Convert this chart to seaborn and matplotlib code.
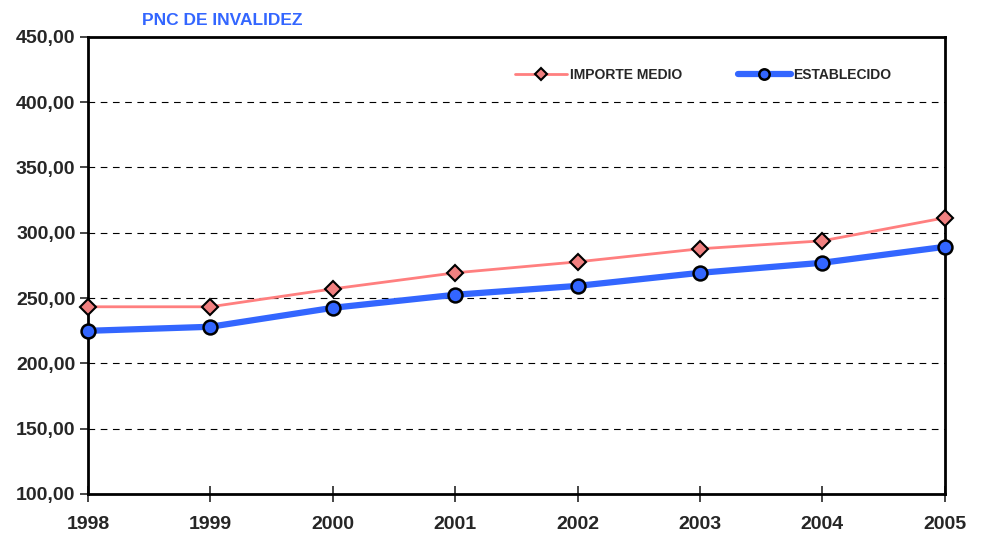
import pandas as pd
import matplotlib
matplotlib.use('Agg')
import matplotlib.pyplot as plt
import seaborn as sns

# Data
years = [1998, 1999, 2000, 2001, 2002, 2003, 2004, 2005]
importe_medio = [243.3, 243.3, 257.0, 269.3, 277.7, 287.7, 293.8, 311.4]
establecido = [224.9, 228.0, 242.5, 252.5, 259.3, 269.3, 277.0, 289.2]
y_ticks = [100, 150, 200, 250, 300, 350, 400, 450]

df = pd.DataFrame({'year': years, 'IMPORTE MEDIO': importe_medio, 'ESTABLECIDO': establecido})

sns.set_style('white')
plt.rcParams['font.family'] = ['Liberation Sans', 'DejaVu Sans']
plt.rcParams['font.weight'] = 'bold'

fig = plt.figure(figsize=(9.86, 5.36), dpi=100)
ax = fig.add_axes([0.0892, 0.0784, 0.869, 0.853])

sns.lineplot(data=df, x='year', y='IMPORTE MEDIO', ax=ax, color='#FF7F7F', linewidth=2,
             marker='D', markersize=8, markerfacecolor='#F08080', markeredgecolor='black',
             markeredgewidth=1.5, label='IMPORTE MEDIO', clip_on=False, zorder=3)
sns.lineplot(data=df, x='year', y='ESTABLECIDO', ax=ax, color='#3366FF', linewidth=4.5,
             marker='o', markersize=10, markerfacecolor='#3366FF', markeredgecolor='black',
             markeredgewidth=1.8, label='ESTABLECIDO', clip_on=False, zorder=3)

ax.set_xlim(years[0], years[-1])
ax.set_ylim(100, 450)
ax.set_xticks(years)
ax.set_yticks(y_ticks)
ax.set_yticklabels([f'{v:.2f}'.replace('.', ',') for v in y_ticks])
ax.set_xlabel('')
ax.set_ylabel('')

for y in y_ticks[1:-1]:
    ax.axhline(y, color='black', linestyle=(0, (6, 5)), linewidth=0.8, zorder=0)

for s in ax.spines.values():
    s.set_color('black')
    s.set_linewidth(2)
    s.set_visible(True)

ax.tick_params(axis='y', direction='out', length=6, width=1.2, labelsize=14, pad=3, left=True)
ax.tick_params(axis='x', direction='inout', length=12, width=1.2, labelsize=14, pad=10, bottom=True)
for lbl in ax.get_xticklabels() + ax.get_yticklabels():
    lbl.set_fontweight('bold')

leg = ax.legend(loc='center right', bbox_to_anchor=(0.938, 0.917), ncol=2, frameon=False,
                fontsize=10, columnspacing=4.0, handlelength=3.8, handletextpad=0.2,
                borderpad=0, borderaxespad=0, markerscale=0.75)
for t in leg.get_texts():
    t.set_fontweight('bold')

fig.text(0.225, 0.962, 'PNC DE INVALIDEZ', color='#3366FF', fontsize=12.5,
         fontweight='bold', ha='center', va='center')

fig.savefig('out.png', dpi=100)
